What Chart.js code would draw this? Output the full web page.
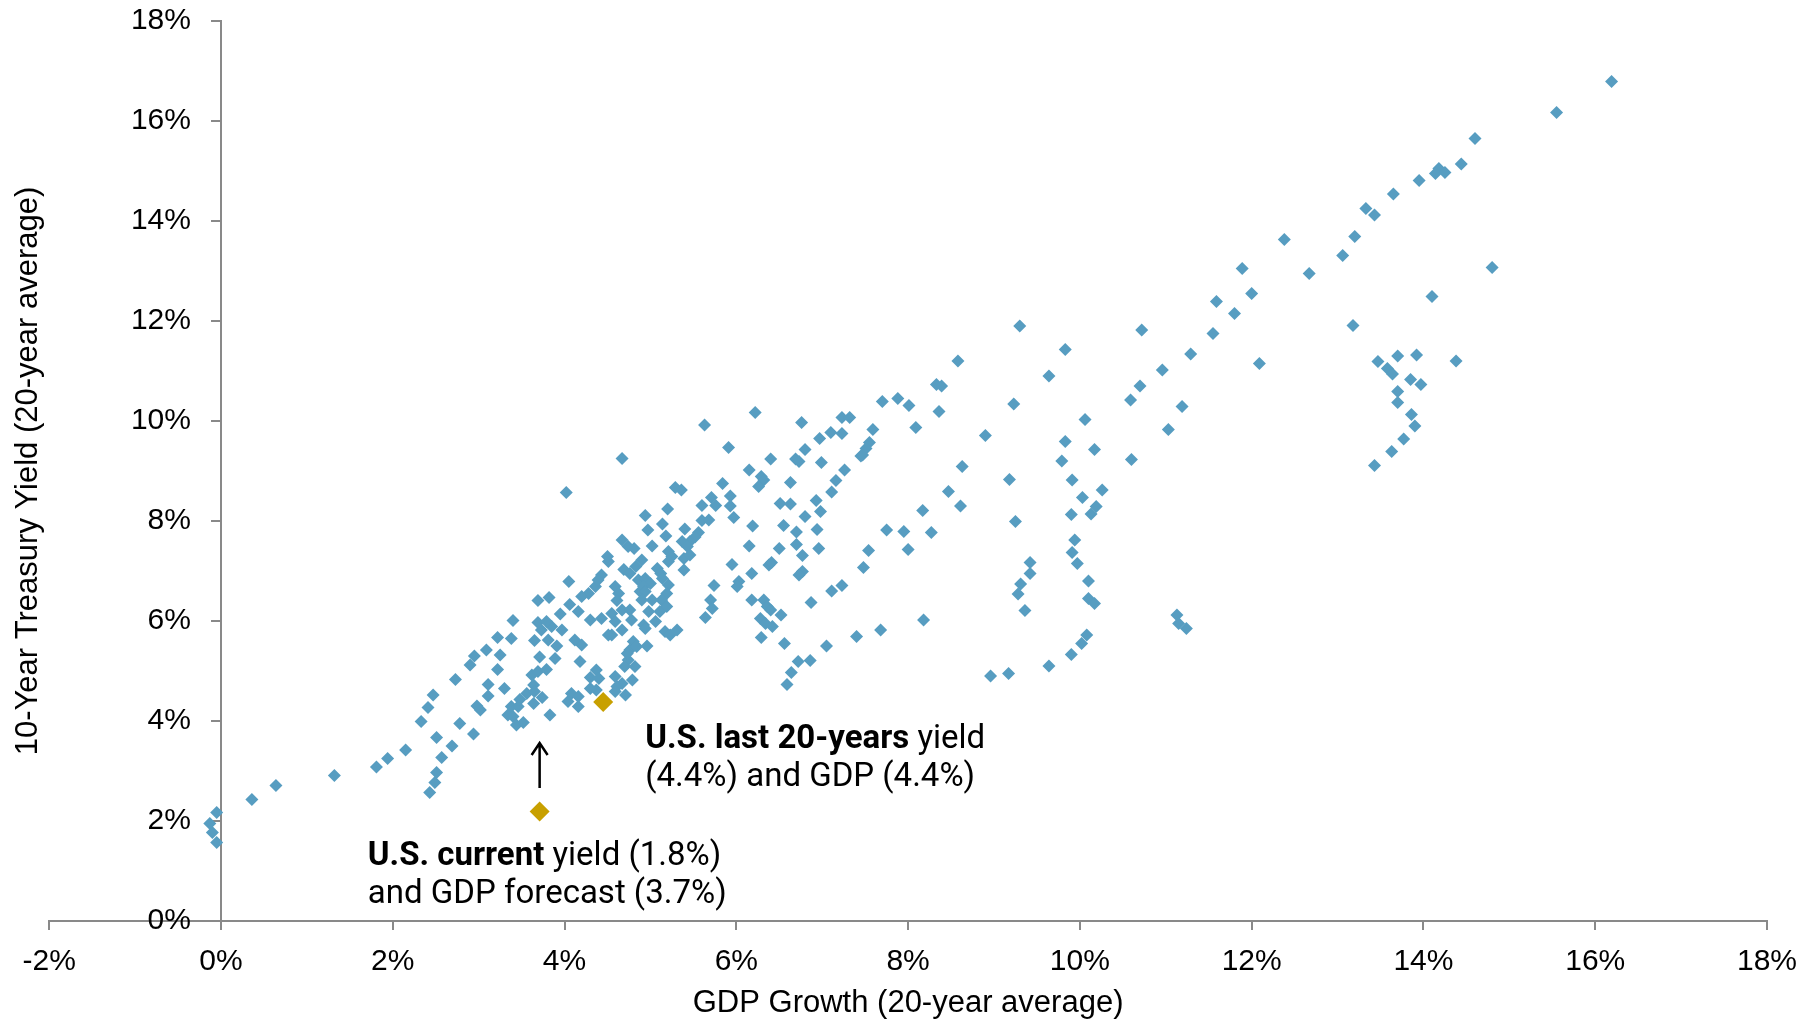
<!DOCTYPE html>
<html>
<head>
<meta charset="utf-8">
<script src="https://cdn.jsdelivr.net/npm/chart.js@4.4.0/dist/chart.umd.min.js"></script>
<style>
  html, body { margin: 0; padding: 0; background: #fff; }
  #wrap { width: 1818px; height: 1021px; }
</style>
</head>
<body>
<div id="wrap"><canvas id="myChart" width="1818" height="1021"></canvas></div>
<script>
// GDP growth (20-yr avg, %) and 10-yr yield (20-yr avg, %) per country/period
const gdpGrowth = [
  -0.13, -0.10, -0.05, -0.05, 0.36, 0.64, 1.32, 1.81, 1.94, 2.15,
  2.33, 2.41, 2.47, 2.73, 2.90, 2.95, 2.98, 2.78, 2.94, 2.51,
  2.69, 2.57, 2.51, 2.49, 2.43, 3.02, 3.09, 3.25, 3.22, 3.38,
  3.40, 3.22, 3.11, 3.30, 3.11, 3.38, 3.46, 3.56, 3.48, 3.64,
  3.74, 3.34, 3.40, 3.44, 3.52, 3.83, 3.62, 3.69, 3.79, 3.64,
  3.65, 3.71, 3.89, 4.18, 3.91, 3.65, 3.81, 4.12, 4.20, 3.73,
  3.97, 3.85, 3.69, 3.79, 3.95, 4.06, 4.16, 4.30, 4.43, 4.55,
  4.67, 4.76, 4.78, 4.59, 4.67, 4.55, 4.80, 3.69, 3.82, 4.05,
  4.43, 4.51, 4.69, 4.83, 4.36, 4.28, 4.20, 4.59, 4.63, 4.39,
  4.50, 4.76, 4.86, 4.88, 4.67, 4.74, 4.81, 4.67, 4.02, 4.61,
  4.76, 4.74, 4.70, 4.82, 4.37, 4.30, 4.40, 4.59, 4.67, 4.61,
  4.79, 4.08, 4.04, 4.16, 4.16, 4.37, 4.30, 4.71, 4.59,
  5.56, 5.52, 5.46, 5.37, 5.43, 5.21, 5.25, 5.21, 5.39, 5.46,
  4.90, 5.95, 6.38, 6.41, 6.18, 6.77, 6.73, 5.39, 4.94, 5.00,
  5.08, 5.12, 5.14, 4.92, 4.94, 5.21, 5.19, 5.13, 5.19, 5.74,
  6.03, 6.01, 4.90, 5.02, 5.70, 5.72, 6.18, 6.32, 6.36, 6.40,
  6.87, 7.11, 7.23, 4.98, 5.11, 5.06, 5.64, 6.28, 6.34, 6.42,
  6.52, 4.51, 4.92, 4.94, 5.17, 5.23, 5.31, 6.29, 6.56, 7.05,
  7.40, 4.84, 4.73, 4.96, 6.72, 6.86, 6.64, 6.59,
  5.63, 6.22, 5.91, 6.76, 7.23, 7.32, 6.97, 7.10, 7.23, 6.40,
  6.80, 6.69, 6.73, 6.99, 7.45, 6.15, 6.29, 6.32, 6.26, 6.63,
  7.26, 7.16, 7.11, 5.84, 5.29, 5.36, 5.71, 5.76, 5.60, 5.93,
  5.93, 5.97, 6.51, 6.63, 6.93, 6.98, 6.80, 6.55, 6.19, 6.70,
  6.94, 4.94, 5.20, 4.97, 5.14, 5.18, 5.40, 5.60, 5.68, 5.02,
  6.15, 6.50, 6.70, 6.96, 6.77,
  8.58, 9.64, 8.33, 8.39, 7.70, 7.88, 8.01, 8.36, 7.59, 8.09,
  9.23, 8.90, 10.06, 9.83, 10.17, 7.55, 7.51, 7.47, 8.63, 9.79,
  9.18, 9.91, 8.47, 10.03, 10.26, 8.61, 8.17, 9.90, 10.13, 10.19,
  9.25, 7.75, 7.95, 8.27, 7.54, 8.00, 7.48, 9.94, 9.91, 9.97,
  9.42, 9.42, 10.10, 7.68, 8.18, 9.31, 9.28, 9.36, 10.10, 10.17,
  10.08, 10.02, 9.90, 9.64, 9.17, 8.96,
  11.59, 11.80, 13.18, 10.72, 11.55, 11.29, 12.09, 13.47, 10.96, 10.70,
  10.59, 11.19, 11.03, 10.60, 13.43, 11.13, 11.15, 11.24, 9.30, 9.83,
  13.95, 13.65, 13.33, 13.43, 13.20, 13.06, 12.67, 14.80, 14.10, 13.70,
  13.92, 14.38, 13.58, 13.64, 13.85, 13.97, 13.70, 13.70, 13.86, 13.90,
  13.77, 13.63, 16.19, 15.55, 14.60, 14.44, 14.18, 14.14, 14.25, 12.38,
  11.89, 12.00
];
const treasuryYield = [
  1.95, 1.77, 1.57, 2.17, 2.43, 2.71, 2.91, 3.08, 3.25, 3.42,
  3.99, 4.27, 4.52, 4.83, 5.12, 5.30, 4.30, 3.95, 3.74, 3.67,
  3.50, 3.27, 2.97, 2.77, 2.57, 4.22, 5.42, 5.32, 5.67, 5.65,
  6.01, 5.03, 4.73, 4.65, 4.50, 4.29, 4.29, 4.55, 4.43, 4.35,
  4.47, 4.12, 4.09, 3.92, 3.97, 4.12, 4.92, 4.99, 5.03, 4.72,
  4.59, 5.28, 5.25, 5.19, 5.50, 5.61, 5.62, 5.62, 5.52, 5.82,
  5.82, 5.89, 5.97, 5.99, 6.14, 6.33, 6.19, 6.02, 6.05, 6.15,
  6.22, 6.22, 6.02, 5.99, 5.82, 5.72, 5.59, 6.41, 6.47, 6.79,
  6.92, 7.19, 7.03, 7.09, 6.69, 6.55, 6.49, 6.69, 6.55, 6.82,
  7.29, 6.95, 6.82, 6.59, 7.62, 7.49, 7.45, 9.25, 8.57, 6.41,
  5.42, 5.22, 5.09, 5.09, 5.02, 4.87, 4.85, 4.89, 4.75, 4.69,
  4.82, 4.55, 4.39, 4.49, 4.29, 4.62, 4.65, 4.52, 4.59,
  7.77, 7.68, 7.59, 7.59, 7.49, 7.39, 7.29, 7.19, 7.25, 7.32,
  7.22, 7.13, 7.12, 7.17, 6.95, 6.99, 6.92, 7.02, 6.85, 6.75,
  7.05, 6.95, 6.85, 6.69, 6.59, 6.72, 6.55, 6.42, 6.29, 6.71,
  6.79, 6.69, 6.42, 6.42, 6.42, 6.25, 6.42, 6.42, 6.29, 6.22,
  6.37, 6.60, 6.71, 6.19, 6.19, 5.99, 6.07, 6.05, 5.95, 5.89,
  6.12, 5.72, 5.92, 5.85, 5.79, 5.72, 5.82, 5.67, 5.55, 5.50,
  5.69, 5.49, 5.35, 5.50, 5.19, 5.21, 4.97, 4.73,
  9.92, 10.17, 9.47, 9.97, 10.07, 10.07, 9.65, 9.77, 9.75, 9.24,
  9.43, 9.24, 9.19, 9.17, 9.30, 9.02, 8.89, 8.82, 8.69, 8.77,
  9.02, 8.81, 8.58, 8.75, 8.67, 8.62, 8.47, 8.31, 8.31, 8.50,
  8.30, 8.07, 8.35, 8.34, 8.41, 8.19, 8.09, 7.91, 7.90, 7.78,
  7.83, 8.11, 8.24, 7.82, 7.94, 7.70, 7.84, 8.01, 8.02, 7.50,
  7.50, 7.45, 7.53, 7.45, 7.31,
  11.20, 10.90, 10.73, 10.70, 10.39, 10.45, 10.31, 10.19, 9.83, 9.87,
  10.34, 9.71, 10.03, 9.59, 9.43, 9.57, 9.45, 9.32, 9.09, 9.20,
  8.83, 8.82, 8.59, 8.47, 8.62, 8.30, 8.21, 8.13, 8.14, 8.29,
  7.99, 7.82, 7.79, 7.77, 7.41, 7.43, 7.07, 7.62, 7.37, 7.15,
  7.17, 6.95, 6.80, 5.82, 6.02, 6.74, 6.54, 6.21, 6.45, 6.35,
  5.72, 5.55, 5.33, 5.10, 4.95, 4.90,
  12.39, 12.15, 11.91, 11.82, 11.75, 11.34, 11.15, 11.19, 11.02, 10.70,
  10.42, 10.29, 9.83, 9.23, 9.11, 6.12, 5.95, 5.85, 11.90, 11.43,
  14.81, 14.54, 14.25, 14.12, 13.69, 13.31, 12.95, 13.07, 12.49, 11.30,
  11.32, 11.20, 11.05, 10.94, 10.83, 10.73, 10.59, 10.37, 10.13, 9.90,
  9.64, 9.39, 16.79, 16.17, 15.65, 15.14, 15.05, 14.95, 14.97, 13.63,
  13.05, 12.55
];
// highlighted U.S. points
const usCurrentGdp = [3.71];
const usCurrentYield = [2.19];
const usLast20Gdp = [4.45];
const usLast20Yield = [4.38];

const xTickStep = 2, xMin = -2, xMax = 18;
const yTickStep = 2, yMin = 0, yMax = 18;

const toPoints = (xs, ys) => xs.map((v, i) => ({ x: v, y: ys[i] }));

const BLUE = "#579dc1";
const GOLD = "#c8a000";
const AXIS = "#898989";

// annotation text, anchored in data units (left edge, middle of line)
const notes = [
  { at: [4.94, 3.63], bold: "U.S. last 20-years", rest: " yield" },
  { at: [4.94, 2.87], bold: "", rest: "(4.4%) and GDP (4.4%)" },
  { at: [1.71, 1.29], bold: "U.S. current", rest: " yield (1.8%)" },
  { at: [1.71, 0.52], bold: "", rest: "and GDP forecast (3.7%)" }
];
const arrowFrom = [3.71, 2.66];
const arrowTo = [3.71, 3.56];

const notesPlugin = {
  id: "notes",
  afterDatasetsDraw(chart) {
    const { ctx, scales: { x, y } } = chart;
    ctx.save();
    ctx.fillStyle = "#000";
    ctx.textBaseline = "middle";
    ctx.textAlign = "left";
    notes.forEach(n => {
      let px = x.getPixelForValue(n.at[0]);
      const py = y.getPixelForValue(n.at[1]);
      if (n.bold) {
        ctx.font = "bold 33px Roboto";
        ctx.fillText(n.bold, px, py);
        px += ctx.measureText(n.bold).width;
      }
      ctx.font = "33px Roboto";
      ctx.fillText(n.rest, px, py);
    });
    // arrow
    const ax = x.getPixelForValue(arrowFrom[0]);
    const y1 = y.getPixelForValue(arrowFrom[1]);
    const y2 = y.getPixelForValue(arrowTo[1]);
    ctx.strokeStyle = "#000";
    ctx.lineWidth = 2.5;
    ctx.beginPath();
    ctx.moveTo(ax, y1);
    ctx.lineTo(ax, y2);
    ctx.moveTo(ax - 8, y2 + 12);
    ctx.lineTo(ax, y2);
    ctx.lineTo(ax + 8, y2 + 12);
    ctx.stroke();
    ctx.restore();
  }
};

const ctx = document.getElementById("myChart").getContext("2d");
const myChart = new Chart(ctx, {
  type: "scatter",
  data: {
    datasets: [
      {
        label: "Countries",
        data: toPoints(gdpGrowth, treasuryYield),
        pointStyle: "rectRot",
        pointRadius: 6.5,
        backgroundColor: BLUE,
        borderColor: BLUE,
        borderWidth: 0
      },
      {
        label: "U.S. last 20 years",
        data: toPoints(usLast20Gdp, usLast20Yield),
        pointStyle: "rectRot",
        pointRadius: 10,
        backgroundColor: GOLD,
        borderColor: GOLD,
        borderWidth: 0
      },
      {
        label: "U.S. current",
        data: toPoints(usCurrentGdp, usCurrentYield),
        pointStyle: "rectRot",
        pointRadius: 10,
        backgroundColor: GOLD,
        borderColor: GOLD,
        borderWidth: 0
      }
    ]
  },
  options: {
    responsive: false,
    animation: false,
    devicePixelRatio: 1,
    layout: { padding: { left: 0, right: 51, top: 21, bottom: 0 } },
    plugins: {
      legend: { display: false },
      tooltip: { enabled: false }
    },
    scales: {
      x: {
        type: "linear",
        position: "bottom",
        min: xMin,
        max: xMax,
        ticks: {
          stepSize: xTickStep,
          padding: 14,
          color: "#000",
          font: { family: "Liberation Sans", size: 30 },
          callback: v => v + "%"
        },
        grid: { drawOnChartArea: false, drawTicks: true, tickLength: 9, color: AXIS, lineWidth: 2 },
        border: { color: AXIS, width: 2 },
        title: {
          display: true,
          text: "GDP Growth (20-year average)",
          color: "#000",
          font: { family: "Liberation Sans", size: 31, lineHeight: 1.16 },
          padding: { top: -9, bottom: 0 }
        }
      },
      y: {
        type: "linear",
        position: { x: 0 },
        min: yMin,
        max: yMax,
        ticks: {
          stepSize: yTickStep,
          color: "#000",
          font: { family: "Liberation Sans", size: 30 },
          // en spaces keep the labels clear of the tick marks
          callback: v => v + "%\u2002\u2002"
        },
        grid: { drawOnChartArea: false, drawTicks: true, tickLength: 9, color: AXIS, lineWidth: 2 },
        border: { color: AXIS, width: 2 }
      },
      yTitle: {
        type: "linear",
        position: "left",
        min: yMin,
        max: yMax,
        ticks: { display: false },
        grid: { display: false, drawTicks: false },
        border: { display: false },
        title: {
          display: true,
          text: "10-Year Treasury Yield (20-year average)",
          color: "#000",
          font: { family: "Liberation Sans", size: 31 },
          padding: { top: 10, bottom: 2 }
        }
      }
    }
  },
  plugins: [notesPlugin]
});
</script>
</body>
</html>
